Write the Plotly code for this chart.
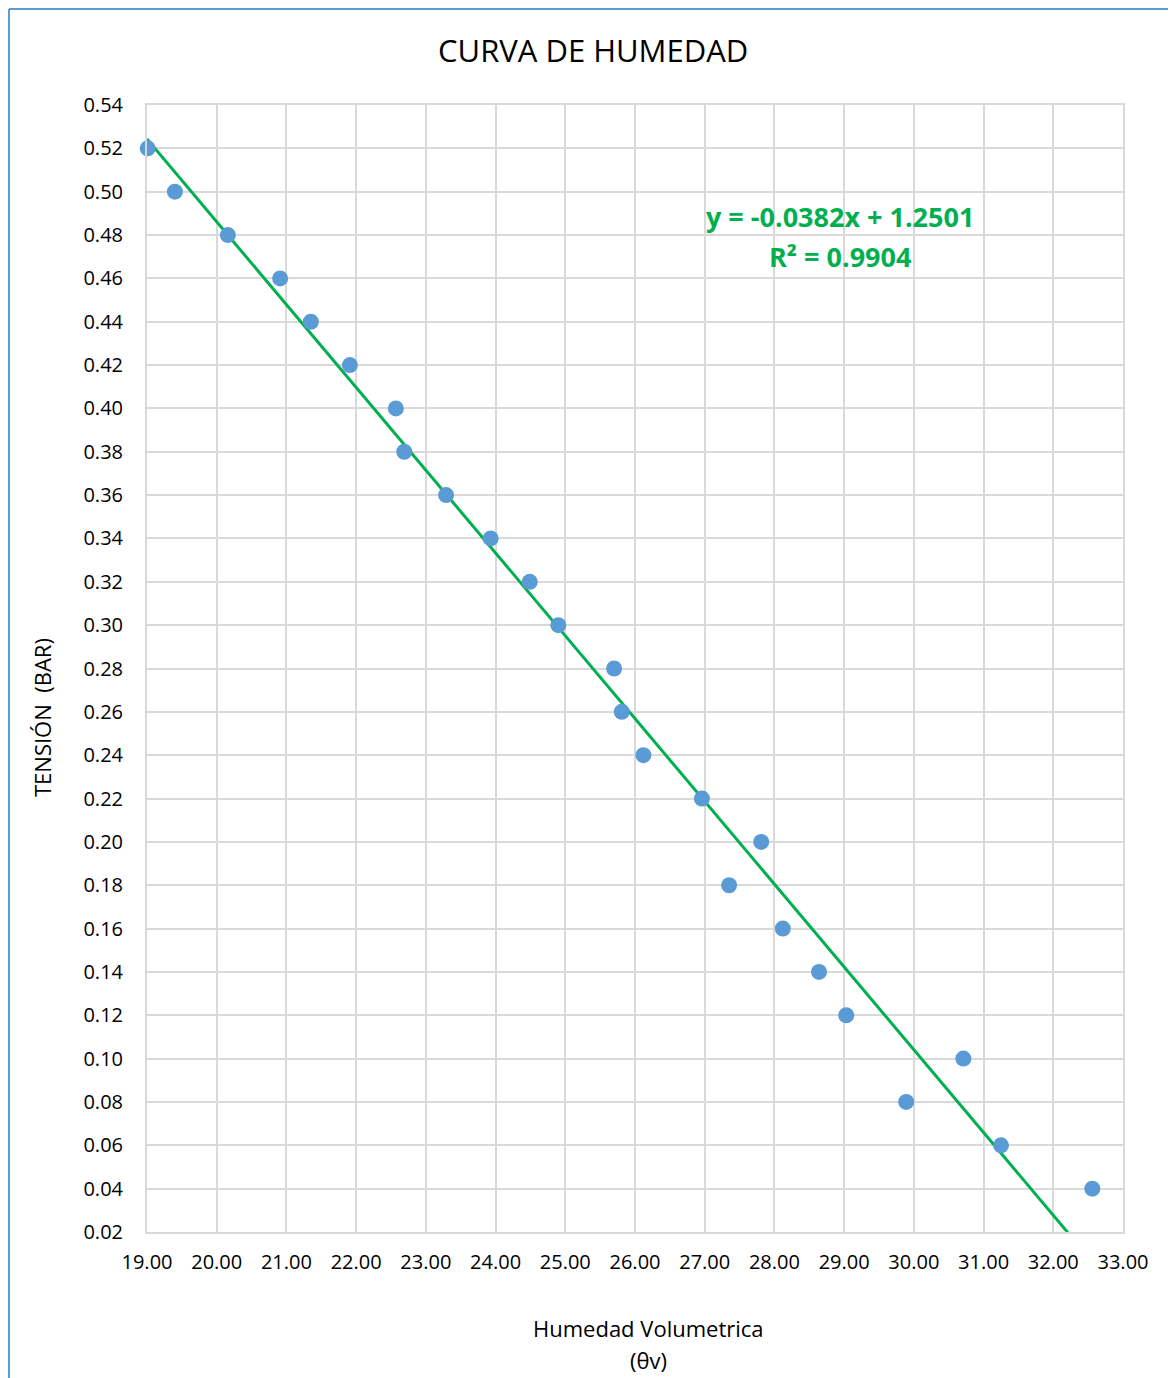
import plotly.graph_objects as go

humedad = [19.01, 19.40, 20.16, 20.91, 21.35, 21.91, 22.57, 22.69, 23.29, 23.93,
           24.49, 24.90, 25.70, 25.81, 26.12, 26.96, 27.35, 27.81, 28.12, 28.64,
           29.03, 29.89, 30.71, 31.25, 32.56]
tension = [0.52, 0.50, 0.48, 0.46, 0.44, 0.42, 0.40, 0.38, 0.36, 0.34,
           0.32, 0.30, 0.28, 0.26, 0.24, 0.22, 0.18, 0.20, 0.16, 0.14,
           0.12, 0.08, 0.10, 0.06, 0.04]
slope = -0.0382
intercept = 1.2501
r2 = 0.9904
x_range = [19, 33]
y_range = [0.02, 0.54]

OFF = 8  # page body margin
W, H = 1176 - OFF, 1378 - OFF
L, T = 147 - OFF, 105 - OFF
pw, ph = 976, 1127
R = W - L - pw
B = H - T - ph

def px(x):
    return (x - OFF - L) / pw

def py(y):
    return (H - B - (y - OFF)) / ph

FONT = "Open Sans"

fig = go.Figure()
trend_x = [x_range[0], x_range[1]]
trend_y = [slope * v + intercept for v in trend_x]
fig.add_trace(go.Scatter(x=trend_x, y=trend_y, mode="lines",
                         line=dict(color="#00B050", width=3), showlegend=False,
                         hoverinfo="skip"))
fig.add_trace(go.Scatter(x=humedad, y=tension, mode="markers",
                         marker=dict(color="#5B9BD5", size=16), showlegend=False,
                         cliponaxis=False))

fig.update_layout(
    width=W, height=H,
    margin=dict(l=L, r=R, t=T, b=B),
    plot_bgcolor="white", paper_bgcolor="white",
    font=dict(family=FONT, color="#000000", size=18),
    xaxis=dict(range=x_range, dtick=1, tickformat=".2f", showgrid=True,
               gridcolor="#d9d9d9", gridwidth=2, showline=True, linecolor="#d9d9d9",
               linewidth=2, mirror=True, zeroline=False, ticks="outside", ticklen=11,
               tickcolor="rgba(0,0,0,0)",
               tickfont=dict(size=20, family=FONT)),
    yaxis=dict(range=y_range, dtick=0.02, tickformat=".2f", showgrid=True,
               gridcolor="#d9d9d9", gridwidth=2, showline=True, linecolor="#d9d9d9",
               linewidth=2, mirror=True, zeroline=False, ticks="outside", ticklen=18,
               tickcolor="rgba(0,0,0,0)",
               tickfont=dict(size=20, family=FONT)),
    annotations=[
        dict(text="CURVA DE HUMEDAD", xref="paper", yref="paper", x=px(593), y=py(50),
             showarrow=False, font=dict(size=31, family=FONT), xanchor="center", yanchor="middle"),
        dict(text="TENSIÓN  (BAR)", xref="paper", yref="paper", x=px(42), y=py(718),
             showarrow=False, textangle=-90, font=dict(size=22, family=FONT),
             xanchor="center", yanchor="middle"),
        dict(text="Humedad Volumetrica", xref="paper", yref="paper", x=px(648), y=py(1328),
             showarrow=False, font=dict(size=22, family=FONT), xanchor="center", yanchor="middle"),
        dict(text="(θv)", xref="paper", yref="paper", x=px(648), y=py(1360),
             showarrow=False, font=dict(size=22, family=FONT), xanchor="center", yanchor="middle"),
        dict(text=f"<b>y = {slope:.4f}x + {intercept:.4f}</b>", xref="paper", yref="paper",
             x=px(840), y=py(217), showarrow=False,
             font=dict(size=27, family=FONT, color="#00B050"), xanchor="center", yanchor="middle"),
        dict(text=f"<b>R² = {r2:.4f}</b>", xref="paper", yref="paper",
             x=px(840), y=py(256), showarrow=False,
             font=dict(size=27, family=FONT, color="#00B050"), xanchor="center", yanchor="middle"),
    ],
    shapes=[
        dict(type="line", xref="paper", yref="paper", x0=px(9), x1=px(9), y0=py(1378 + 5), y1=py(9),
             line=dict(color="#5B9BD5", width=2)),
        dict(type="line", xref="paper", yref="paper", x0=px(9), x1=px(1176 + 5), y0=py(9), y1=py(9),
             line=dict(color="#5B9BD5", width=2)),
    ],
)

fig.write_html("out.html")
